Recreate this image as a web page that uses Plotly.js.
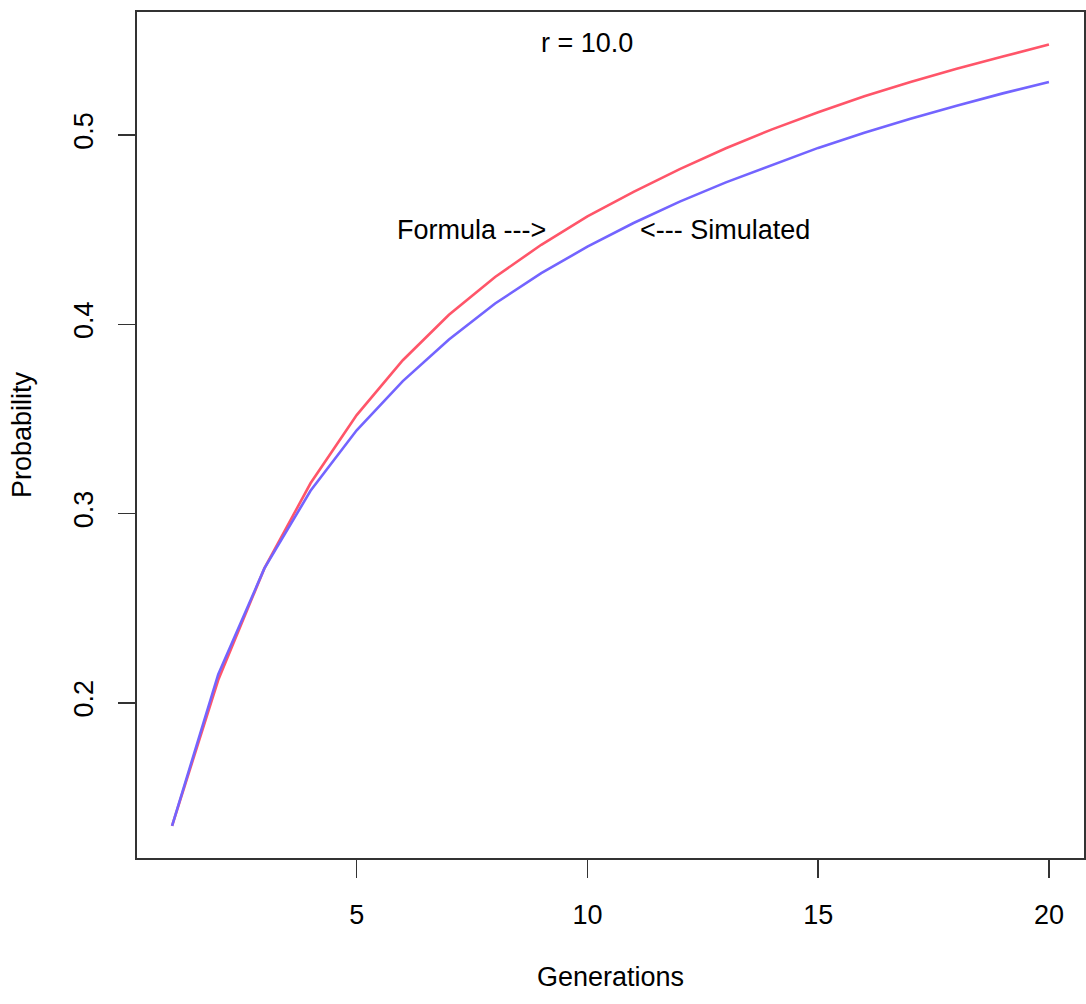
<!DOCTYPE html>
<html>
<head>
<meta charset="utf-8">
<script src="https://cdn.plot.ly/plotly-3.0.1.min.js"></script>
<style>html,body{margin:0;padding:0;background:#fff;}#chart{width:1086px;height:1004px;}</style>
</head>
<body>
<div id="chart"></div>
<script>
const generations = [1,2,3,4,5,6,7,8,9,10,11,12,13,14,15,16,17,18,19,20];
const formula = [0.135,0.212,0.271,0.316,0.352,0.381,0.405,0.425,0.442,0.457,0.470,0.482,0.493,0.503,0.512,0.5205,0.528,0.535,0.5415,0.5478];
const simulated = [0.135,0.215,0.271,0.312,0.344,0.370,0.392,0.411,0.427,0.441,0.4535,0.4648,0.475,0.4843,0.4932,0.5012,0.5086,0.5155,0.522,0.528];
const xTicks = [5,10,15,20];
const yTicks = [0.2,0.3,0.4,0.5];
const yTickText = ["0.2","0.3","0.4","0.5"];

const font = {family: "Liberation Sans, Arial, Helvetica, sans-serif", size: 27, color: "#000"};

const traces = [
  {x: generations, y: formula, mode: "lines", name: "Formula",
   line: {color: "rgb(255,85,105)", width: 2.6}},
  {x: generations, y: simulated, mode: "lines", name: "Simulated",
   line: {color: "rgb(115,100,255)", width: 2.6}}
];

const layout = {
  width: 1086, height: 1004,
  margin: {l: 137, r: 2, t: 12, b: 146},
  paper_bgcolor: "#fff", plot_bgcolor: "#fff",
  showlegend: false,
  font: font,
  xaxis: {
    range: [0.24, 20.76],
    tickvals: xTicks,
    ticks: "outside", ticklen: 18, tickwidth: 1.5, tickcolor: "#333",
    showline: true, linecolor: "#333", linewidth: 2, mirror: true,
    showgrid: false, zeroline: false,
    tickfont: font,
    ticklabelstandoff: 14,
    title: {text: "Generations", font: font, standoff: 38}
  },
  yaxis: {
    range: [0.118, 0.565],
    tickvals: yTicks, ticktext: yTickText,
    tickangle: -90,
    ticks: "outside", ticklen: 17, tickwidth: 1.5, tickcolor: "#333",
    showline: true, linecolor: "#333", linewidth: 2, mirror: true,
    showgrid: false, zeroline: false,
    tickfont: font,
    ticklabelstandoff: 14,
    title: {text: "Probability", font: font, standoff: 30}
  },
  annotations: [
    {x: 10, y: 0.5485, xref: "x", yref: "y", text: "r = 10.0", showarrow: false, font: font},
    {x: 7.49, y: 0.45, xref: "x", yref: "y", text: "Formula --->", showarrow: false, font: font},
    {x: 12.98, y: 0.45, xref: "x", yref: "y", text: "<--- Simulated", showarrow: false, font: font}
  ]
};

Plotly.newPlot("chart", traces, layout, {displayModeBar: false, staticPlot: true});
</script>
</body>
</html>
